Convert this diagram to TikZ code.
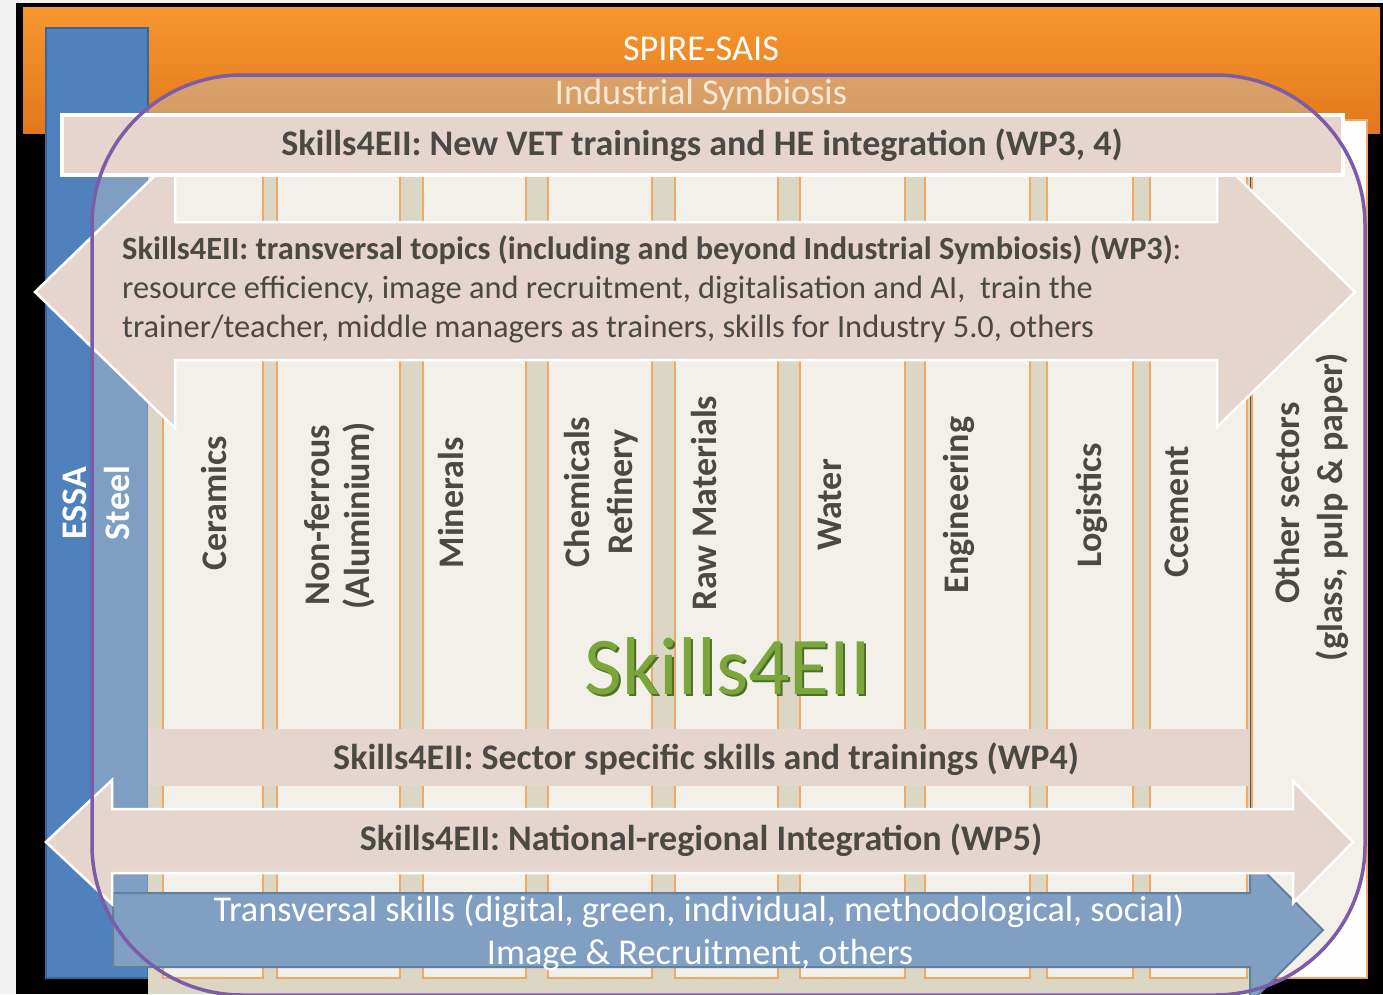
\documentclass[tikz,border=0pt]{standalone}
\usepackage{fontspec}
\setmainfont{Carlito}
\definecolor{txt}{HTML}{4A4943}
\definecolor{pinkb}{HTML}{E5D5CD}
\definecolor{cream}{HTML}{F3F0E9}
\definecolor{beige}{HTML}{DCD7C5}
\definecolor{orl}{HTML}{F1A866}
\definecolor{essa}{HTML}{4F81BD}
\definecolor{essad}{HTML}{3A659B}
\definecolor{bluea}{HTML}{809FC3}
\definecolor{blued}{HTML}{60809F}
\definecolor{purp}{HTML}{7C5CA8}
\definecolor{ov}{RGB}{194,201,201}
\definecolor{gr}{HTML}{7AA63C}
\definecolor{grd}{HTML}{4F6E28}
\definecolor{orT}{HTML}{F7962F}
\definecolor{orB}{HTML}{E2781C}
\definecolor{symb}{HTML}{FCEAD6}
\tikzset{
  lbl/.style={font=\fontsize{36}{43}\selectfont\bfseries, text=txt, inner sep=0pt},
  vlbl/.style={lbl, rotate=90, anchor=base},
  hlbl/.style={lbl, anchor=base},
  wp3/.style={font=\fontsize{32.4}{38}\selectfont, text=txt, inner sep=0pt, anchor=base west},
  wtxt/.style={font=\fontsize{36.3}{43}\selectfont, text=white, inner sep=0pt, anchor=base},
  col/.style={fill=cream, draw=orl, line width=2.5pt},
  band/.style={fill=pinkb, draw=white, line width=2.5pt},
}
\begin{document}
\begin{tikzpicture}[x=1pt,y=-1pt]
\useasboundingbox (0,0) rectangle (1383,994);
% background
\fill[black!5] (0,0) rectangle (1383,994);
\fill[black] (16,3) rectangle (1383,994);
% orange SPIRE-SAIS bar
\shade[top color=orT, bottom color=orB] (23,7) rectangle (1380,133);
% ESSA bar
\draw[fill=essa, draw=essad, line width=2pt] (46,28) rectangle (148,978);
% translucent fill of the Skills4EII frame
\fill[ov, opacity=0.42, rounded corners=150pt] (92,75) rectangle (1365,995);
% beige background of the sector columns
\fill[beige] (148,120) rectangle (1250,994);
% sector columns
\foreach \a/\b in {163/263,277/400,423/526,548/652,675/778,800/905,925/1030,1047/1133,1150/1247}
  \draw[col] (\a,120) rectangle (\b,978);
% other sectors column
\fill[white!97!cream] (1252,120) rectangle (1367,978);
\begin{scope}
  \clip[rounded corners=150pt] (92,75) rectangle (1365,995);
  \fill[cream] (1252,120) rectangle (1367,978);
\end{scope}
\draw[orl, line width=2.5pt] (1252,120) rectangle (1367,978);
% WP3 double arrow
\draw[band] (35,292) -- (175,156) -- (175,222) -- (1217,222) -- (1217,157)
  -- (1355,292) -- (1217,427) -- (1217,360) -- (175,360) -- (175,428) -- cycle;
% top bar WP3,4
\draw[fill=pinkb, draw=white, line width=3.5pt] (62,115) rectangle (1343,175);
% WP4 bar
\fill[pinkb] (148,729) rectangle (1250,786);
% blue transversal skills arrow
\draw[fill=bluea, draw=blued, line width=2pt] (113,893) -- (1250,893) -- (1250,857)
  -- (1323,930) -- (1250,1003) -- (1250,967) -- (113,967) -- cycle;
% WP5 double arrow
\draw[band] (46,842) -- (112,780) -- (112,809) -- (1293,809) -- (1293,781)
  -- (1353,842) -- (1293,903) -- (1293,873) -- (112,873) -- (112,904) -- cycle;
% texts
\node[wtxt] (spire) at (701,60) {SPIRE-SAIS};
\node[wtxt, text=symb] (symb) at (701,104) {Industrial Symbiosis};
\node[hlbl] (wp34) at (702,155) {Skills4EII: New VET trainings and HE integration (WP3, 4)};
\node[wp3] (wp3a) at (122,259) {\bfseries Skills4EII: transversal topics (including and beyond Industrial Symbiosis) (WP3)\mdseries:};
\node[wp3] (wp3b) at (122,298) {resource efficiency, image and recruitment, digitalisation and AI, \ train the};
\node[wp3] (wp3c) at (122,337) {trainer/teacher, middle managers as trainers, skills for Industry 5.0, others};
\node[hlbl] (wp4) at (706,769) {Skills4EII: Sector specific skills and trainings (WP4)};
\node[hlbl] (wp5) at (701,850) {Skills4EII: National-regional Integration (WP5)};
\node[wtxt] (tr1) at (699,921) {Transversal skills (digital, green, individual, methodological, social)};
\node[wtxt] (tr2) at (700,964) {Image \& Recruitment, others};
% vertical labels
\node[vlbl, text=white] (essa) at (86.5,503) {ESSA};
\node[vlbl, text=white!95!cream] (steel) at (129.5,503) {Steel};
\node[vlbl] (cer) at (226.5,503) {Ceramics};
\node[vlbl] (nf1) at (329.5,515) {Non-ferrous};
\node[vlbl] (nf2) at (369.5,516) {(Aluminium)};
\node[vlbl] (min) at (463.5,503) {Minerals};
\node[vlbl] (chem) at (589.5,492) {Chemicals};
\node[vlbl] (ref) at (632.5,492) {Refinery};
\node[vlbl] (raw) at (716.5,503) {Raw Materials};
\node[vlbl] (wat) at (841.5,505) {Water};
\node[vlbl] (eng) at (968.5,505) {Engineering};
\node[vlbl] (log) at (1101.5,505) {Logistics};
\node[vlbl] (cem) at (1188.5,512) {Ccement};
\node[vlbl] (oth1) at (1299.5,503) {Other sectors};
\node[vlbl] (oth2) at (1342.5,507) {(glass, pulp \& paper)};
% big title
\node[font=\fontsize{82}{98}\selectfont, text=grd, inner sep=0pt, anchor=base] (bigs) at (730,696) {Skills4EII};
\node[font=\fontsize{82}{98}\selectfont, text=gr, inner sep=0pt, anchor=base] (big) at (728,694) {Skills4EII};
% purple frame
\draw[purp, line width=3.5pt, rounded corners=150pt] (92,75) rectangle (1365,995);
\end{tikzpicture}
\end{document}
